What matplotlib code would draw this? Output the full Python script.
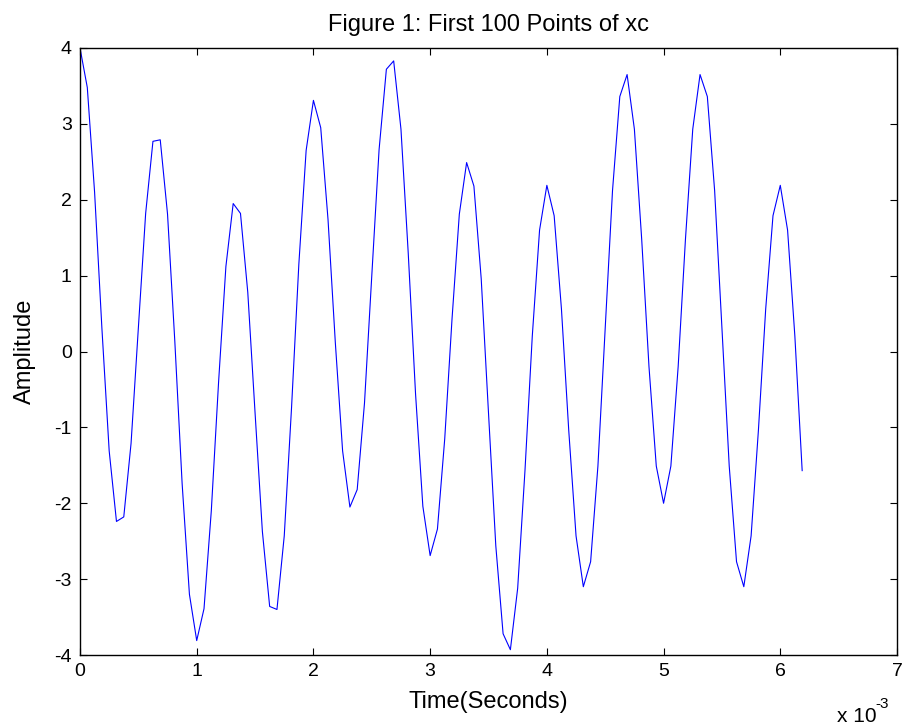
import numpy as np
import matplotlib
matplotlib.use('Agg')
import matplotlib.pyplot as plt
from matplotlib.ticker import FuncFormatter

plt.rcParams['font.family'] = ['Liberation Sans', 'DejaVu Sans']
plt.rcParams['axes.unicode_minus'] = False

# first 100 samples of xc, sampled at 16 kHz
fs = 16000
xc = [4.00, 3.48, 2.10, 0.31, -1.31, -2.24, -2.18, -1.21, 0.31, 1.82,
      2.77, 2.79, 1.81, 0.13, -1.74, -3.20, -3.81, -3.39, -2.10, -0.40,
      1.12, 1.95, 1.82, 0.78, -0.81, -2.37, -3.36, -3.40, -2.43, -0.74,
      1.15, 2.65, 3.31, 2.95, 1.74, 0.12, -1.31, -2.05, -1.82, -0.68,
      1.00, 2.66, 3.72, 3.83, 2.93, 1.29, -0.56, -2.04, -2.69, -2.34,
      -1.15, 0.43, 1.81, 2.49, 2.18, 0.96, -0.81, -2.56, -3.72, -3.93,
      -3.12, -1.57, 0.20, 1.60, 2.19, 1.79, 0.56, -1.04, -2.43, -3.10,
      -2.77, -1.51, 0.31, 2.12, 3.36, 3.65, 2.93, 1.48, -0.20, -1.51,
      -2.00, -1.51, -0.20, 1.48, 2.93, 3.65, 3.36, 2.12, 0.31, -1.51,
      -2.77, -3.10, -2.43, -1.04, 0.56, 1.79, 2.19, 1.60, 0.20, -1.57]
t = np.arange(len(xc)) / fs

xticks = [0, 1, 2, 3, 4, 5, 6, 7]          # in units of 1e-3 s
yticks = [-4, -3, -2, -1, 0, 1, 2, 3, 4]

fig = plt.figure(figsize=(9.04, 7.28), dpi=100)
ax = fig.add_axes([80/904, 1 - 655/728, (897 - 80)/904, (655 - 48)/728])

ax.plot(t, xc, color='#0000ff', linewidth=0.8)

ax.set_xlim(0, 7e-3)
ax.set_ylim(-4, 4)
ax.set_xticks([v * 1e-3 for v in xticks])
ax.xaxis.set_major_formatter(FuncFormatter(lambda v, p: '%g' % round(v * 1e3, 6)))
ax.set_yticks(yticks)

ax.tick_params(direction='in', length=5, width=0.8, top=True, right=True,
               labelsize=14, pad=6, colors='black')
for s in ax.spines.values():
    s.set_linewidth(1.0)

ax.set_title('Figure 1: First 100 Points of xc', fontsize=17, pad=12)
ax.set_xlabel('Time(Seconds)', fontsize=17, labelpad=8)
ax.set_ylabel('Amplitude', fontsize=17, labelpad=13)

# exponent of the time axis, MATLAB style
fig.text(837/904, 1 - 722/728, 'x 10', fontsize=15, ha='left', va='baseline')
fig.text(875/904, 1 - 708/728, '-3', fontsize=11, ha='left', va='baseline')

fig.savefig('out.png', dpi=100)
